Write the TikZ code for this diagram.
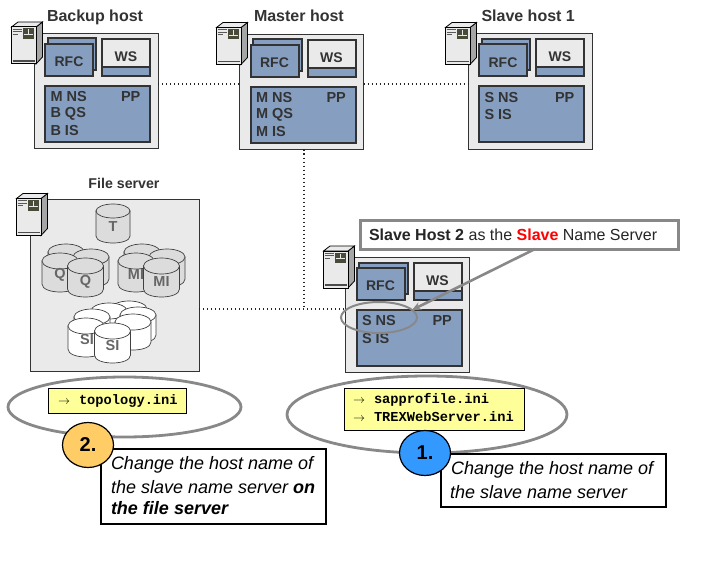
\documentclass[tikz,border=0pt]{standalone}
\usepackage{fontspec}
\setmainfont{Liberation Sans}
\setmonofont{Liberation Mono}
\usetikzlibrary{shapes.geometric,arrows.meta}
\definecolor{svc}{HTML}{869FC1}
\definecolor{panel}{HTML}{EAEAEA}
\definecolor{ink}{HTML}{333333}
\definecolor{note}{HTML}{FFFF99}
\definecolor{halo}{HTML}{888888}
\definecolor{disk}{HTML}{DCDCDC}
\definecolor{bezel}{HTML}{4A4A38}
\definecolor{stepone}{HTML}{3399FF}
\definecolor{steptwo}{HTML}{FFCC66}
\tikzset{
  every node/.style={inner sep=0pt,outer sep=0pt},
  hostpanel/.style={draw=ink,line width=0.9pt,fill=panel,anchor=north west},
  svcbox/.style={draw=ink,line width=2pt,fill=svc,anchor=north west,text=ink,font=\bfseries\fontsize{14}{16}\selectfont},
  wsbox/.style={draw=ink,line width=2pt,fill=panel,anchor=north west,text=ink,font=\bfseries\fontsize{14}{16}\selectfont},
  svclabel/.style={anchor=west,text=ink,font=\bfseries\fontsize{14.5}{16}\selectfont},
  hosttitle/.style={anchor=west,text=ink,font=\bfseries\fontsize{16}{18}\selectfont},
  disklabel/.style={text=black!60,font=\bfseries\fontsize{14.5}{16}\selectfont},
  link/.style={line width=1.2pt,dash pattern=on 1.3pt off 2.7pt,draw=black!85},
  halo ring/.style={draw=halo,line width=2.8pt,ellipse},
  filenote/.style={draw=black,line width=0.9pt,fill=note,anchor=north west},
  filetext/.style={anchor=west,font=\ttfamily\bfseries\fontsize{13.7}{15}\selectfont},
  stepdot/.style={draw=black,line width=1.2pt,ellipse,font=\bfseries\fontsize{20}{22}\selectfont},
  stepnote/.style={draw=black,line width=2pt,fill=white,anchor=north west},
  steptext/.style={anchor=west,font=\itshape\fontsize{18}{20}\selectfont},
}
\newcommand{\arrowmark}{\makebox[21pt][l]{\fontsize{12}{14}\mdseries$\rightarrow$}}
% server tower: left edge, top edge, node name
\newcommand{\towericon}[3]{%
  \begin{scope}[shift={(#1,#2)}]
    \fill[black!35,draw=black,line width=0.8pt] (24.5,5.5) -- (31,0.5) -- (31,35.5) -- (24.5,42.5) -- cycle;
    \fill[panel,draw=black,line width=0.8pt] (0,5.5) -- (6.5,0.5) -- (31,0.5) -- (24.5,5.5) -- cycle;
    \node[draw=black,line width=1pt,fill=panel,minimum width=24.5pt,minimum height=37pt,anchor=north west] (#3) at (0,5.5) {};
    \fill[bezel] (11,7) rectangle (22.5,17.5);
    \draw[panel,line width=0.6pt] (16.5,8) -- (16.5,13) (12,13) -- (21.5,13);
    \draw[black!65,line width=0.9pt] (1,7.5) -- (10,7.5) (1,10) -- (10,10) (1,12.5) -- (6,12.5);
    \draw[black!70,line width=1.6pt] (1,39.5) -- (23.5,39.5);
  \end{scope}}
% one host panel with its services: name, left, top, service lines
\newcommand{\hostunit}[4]{%
  \begin{scope}[shift={(#2,#3)}]
    \node[hostpanel,minimum width=124pt,minimum height=115.5pt] (#1) at (0,0) {};
    \node[svcbox,minimum width=48.5pt,minimum height=31.5pt] (#1rfcback) at (13.5,5.5) {};
    \node[svcbox,minimum width=48pt,minimum height=32pt,text height=14pt] (#1rfc) at (11,11) {RFC};
    \node[svcbox,minimum width=48pt,minimum height=37pt] (#1wslow) at (68,6) {};
    \node[wsbox,minimum width=48pt,minimum height=28pt,text height=17pt] (#1ws) at (68,6) {WS};
    \node[svcbox,minimum width=105pt,minimum height=56pt] (#1main) at (11,53) {};
    \node[svclabel] (#1pp) at (87,64) {PP};
    #4
  \end{scope}}
% a disk: centre x, top ellipse y, bottom ellipse y, half width, half height, fill
\newcommand{\diskdrum}[6]{%
  \path[fill=#6,draw=black!75,line width=0.7pt]
    (#1-#4,#2) -- (#1-#4,#3)
    .. controls (#1-#4,#3+#5*1.333) and (#1+#4,#3+#5*1.333) .. (#1+#4,#3)
    -- (#1+#4,#2) -- cycle;
  \path[fill=#6,draw=black!75,line width=0.7pt] (#1,#2) ellipse[x radius=#4,y radius=#5];}
\begin{document}
\begin{tikzpicture}[x=1pt,y=-1pt]
\useasboundingbox[fill=white] (0,0) rectangle (720,567);

\coordinate (hub) at (304,309);

% hosts along the top row
\hostunit{backup}{34}{33}{%
  \node[svclabel] (backupa) at (16.5,64) {M NS};
  \node[svclabel] (backupb) at (16.5,81) {B QS};
  \node[svclabel] (backupc) at (16.5,98) {B IS};}
\hostunit{master}{239.5}{34}{%
  \node[svclabel] (mastera) at (16.5,64) {M NS};
  \node[svclabel] (masterb) at (16.5,81) {M QS};
  \node[svclabel] (masterc) at (16.5,98) {M IS};}
\hostunit{slaveone}{468}{33.5}{%
  \node[svclabel] (slaveonea) at (16.5,64) {S NS};
  \node[svclabel] (slaveoneb) at (16.5,81) {S IS};}
\hostunit{slavetwo}{345.5}{257}{%
  \node[svclabel] (slavetwoa) at (16.5,64) {S NS};
  \node[svclabel] (slavetwob) at (16.5,81.5) {S IS};}

\node[hosttitle] (backuptitle) at (47,17) {Backup host};
\node[hosttitle] (mastertitle) at (254,16) {Master host};
\node[hosttitle] (slaveonetitle) at (481.5,16) {Slave host 1};

\towericon{11.5}{21.5}{backupicon}
\towericon{216.5}{22}{mastericon}
\towericon{445.5}{22}{slaveoneicon}
\towericon{323.5}{245.5}{slavetwoicon}

% file server panel and its disks
\node[hostpanel,minimum width=168.5pt,minimum height=172pt] (files) at (30.5,199) {};
\node[text=ink,font=\bfseries\fontsize{14.2}{16}\selectfont] (filestitle) at (124,183) {File server};
\towericon{16.5}{193}{filesicon}

\diskdrum{113}{211}{236}{17}{7}{disk}
\node[disklabel] (diskt) at (113,227) {T};

\diskdrum{66}{252}{276}{18}{8}{disk}
\diskdrum{91}{257}{279}{18}{8}{disk}
\diskdrum{60}{261}{284}{18}{8}{disk}
\diskdrum{85.5}{266}{289}{18}{8}{disk}
\node[disklabel] (diskqa) at (60,275) {Q};
\node[disklabel] (diskqb) at (85.5,282) {Q};

\diskdrum{142}{252}{276}{18}{8}{disk}
\diskdrum{167}{257}{279}{18}{8}{disk}
\diskdrum{136}{261}{284}{18}{8}{disk}
\diskdrum{161.5}{266}{289}{18}{8}{disk}
\node[disklabel] (diskma) at (136,275) {MI};
\node[disklabel] (diskmb) at (161.5,282) {MI};

\diskdrum{129}{309}{330}{18}{8}{white}
\diskdrum{109}{311}{332}{18}{8}{white}
\diskdrum{138}{315}{335}{18}{8}{white}
\diskdrum{133}{322}{342}{18}{8}{white}
\diskdrum{92}{317}{340}{18}{8}{white}
\diskdrum{86}{326}{349}{18}{8}{white}
\diskdrum{112.5}{331}{355}{18}{8}{white}
\node[disklabel] (disksa) at (87,340) {SI};
\node[disklabel] (disksb) at (112.5,346) {SI};

% network links
\draw[link] (backup.east |- 0,84) -- (master.west |- 0,84);
\draw[link] (master.east |- 0,84) -- (slaveone.west |- 0,84);
\draw[link] (master.south -| hub) -- (hub);
\draw[link] (files.east |- hub) -- (slavetwo.west |- hub);

% highlight around the slave name server, with its callout
\node[draw=halo,line width=2pt,ellipse,minimum width=76pt,minimum height=31pt] (focus) at (379,317.5) {};
\node[draw=halo,line width=3pt,fill=white,anchor=north west,minimum width=318pt,minimum height=29pt] (callout) at (360,220) {};
\node[anchor=west,text=black!85,font=\fontsize{16}{18}\selectfont] (callouttext) at (369,235) {\textbf{Slave Host 2} as the \textbf{\textcolor{red}{Slave}} Name Server};
\draw[halo,line width=2.6pt,-{Stealth[length=9pt,width=8pt]}] (callout.south -| 535,0) -- (412,310);

% step 2: file server
\node[halo ring,minimum width=233pt,minimum height=60pt] (ringtwo) at (124.5,407) {};
\node[filenote,minimum width=138pt,minimum height=25pt] (notetwo) at (48.5,388.5) {};
\node[filetext] (notetwotext) at (58,401) {\arrowmark topology.ini};
\node[stepnote,minimum width=225pt,minimum height=75pt] (boxtwo) at (101,449) {};
\node[steptext] (boxtwoa) at (111,465) {Change the host name of};
\node[steptext] (boxtwob) at (111,487) {the slave name server \textbf{on}};
\node[steptext] (boxtwoc) at (111,508.5) {\textbf{the file server}};
\node[stepdot,fill=steptwo,minimum width=51pt,minimum height=45pt] (dottwo) at (88,445) {2.};

% step 1: slave host 2
\node[halo ring,minimum width=280pt,minimum height=77pt] (ringone) at (427,414.5) {};
\node[filenote,minimum width=180pt,minimum height=42pt] (noteone) at (344,388) {};
\node[filetext] (noteonea) at (353,400) {\arrowmark sapprofile.ini};
\node[filetext] (noteoneb) at (353,417) {\arrowmark TREXWebServer.ini};
\node[stepnote,minimum width=225pt,minimum height=53pt] (boxone) at (441,454) {};
\node[steptext] (boxonea) at (451,470) {Change the host name of};
\node[steptext] (boxoneb) at (450,492) {the slave name server};
\node[stepdot,fill=stepone,minimum width=51pt,minimum height=45pt] (dotone) at (425,453) {1.};
\end{tikzpicture}
\end{document}
